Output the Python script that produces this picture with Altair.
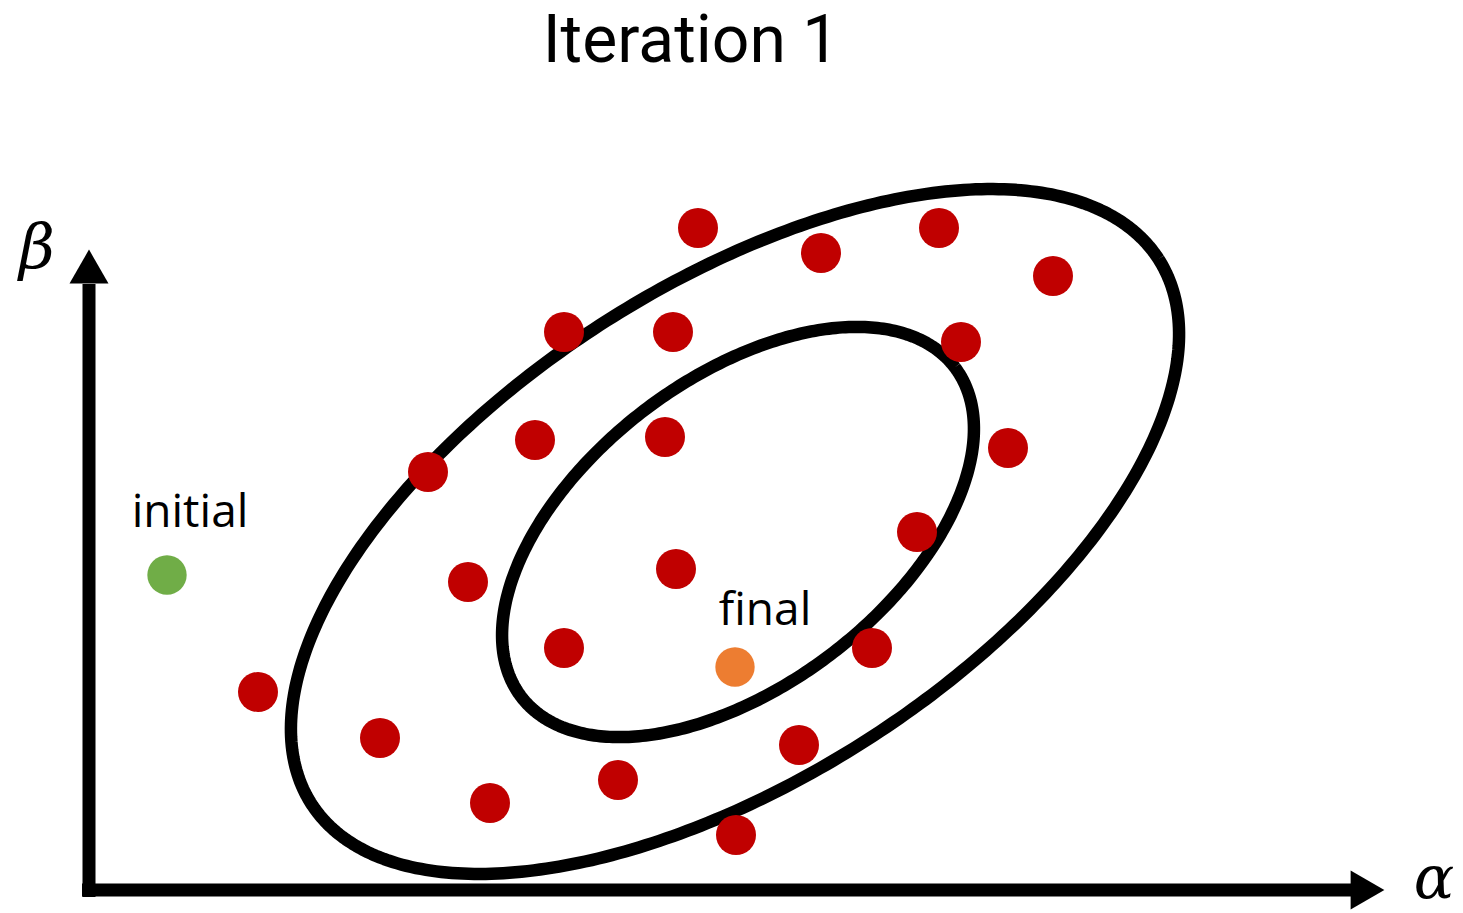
import numpy as np
import pandas as pd
import altair as alt

W, H = 1463, 913

# sample positions (canvas units, y grows downward)
red_x = [698, 821, 939, 1053, 564, 673, 961, 535, 665, 1008, 428,
         917, 468, 676, 564, 872, 258, 380, 799, 618, 490, 736]
red_y = [228, 253, 228, 276, 332, 332, 342, 440, 437, 448, 472,
         532, 582, 569, 648, 648, 692, 738, 745, 780, 803, 835]

initial_pt = (167, 575)
final_pt = (735, 667)

# contour ellipses: centre x, centre y, semi-major, semi-minor, tilt (degrees)
contour_names = ["outer", "inner"]
contour_cx = [735, 738]
contour_cy = [531.5, 532]
contour_a = [503.6, 272.3]
contour_b = [246.7, 153.6]
contour_tilt = [32.75, 37.2]

x_scale = alt.Scale(domain=[0, W], nice=False, zero=False)
y_scale = alt.Scale(domain=[0, H], nice=False, zero=False, reverse=True)
X = lambda f: alt.X(f, type="quantitative", scale=x_scale, axis=None)
Y = lambda f: alt.Y(f, type="quantitative", scale=y_scale, axis=None)

rows = []
t = np.linspace(0, 2 * np.pi, 400)
for name, cx, cy, a, b, tilt in zip(contour_names, contour_cx, contour_cy,
                                    contour_a, contour_b, contour_tilt):
    p = np.radians(tilt)
    xs = cx + a * np.cos(t) * np.cos(p) - b * np.sin(t) * np.sin(p)
    ys = cy - (a * np.cos(t) * np.sin(p) + b * np.sin(t) * np.cos(p))
    for i, (xv, yv) in enumerate(zip(xs, ys)):
        rows.append({"contour": name, "i": i, "x": xv, "y": yv})
contour_df = pd.DataFrame(rows)

contours = alt.Chart(contour_df).mark_line(
    color="black", strokeWidth=12.5, strokeJoin="round"
).encode(x=X("x"), y=Y("y"), detail="contour:N", order="i:Q")

red_df = pd.DataFrame({"x": red_x, "y": red_y})
red_pts = alt.Chart(red_df).mark_circle(
    size=1600, color="#C00000", opacity=1
).encode(x=X("x"), y=Y("y"))

init_df = pd.DataFrame({"x": [initial_pt[0]], "y": [initial_pt[1]]})
init_pt = alt.Chart(init_df).mark_circle(
    size=1550, color="#70AD47", opacity=1
).encode(x=X("x"), y=Y("y"))

fin_df = pd.DataFrame({"x": [final_pt[0]], "y": [final_pt[1]]})
fin_pt = alt.Chart(fin_df).mark_circle(
    size=1550, color="#ED7D31", opacity=1
).encode(x=X("x"), y=Y("y"))

# axis arrows
axis_df = pd.DataFrame({
    "x": [89, 82], "x2": [89, 1352],
    "y": [897, 890], "y2": [284, 890],
})
axis_lines = alt.Chart(axis_df).mark_rule(color="black", strokeWidth=13).encode(
    x=X("x"), x2="x2", y=Y("y"), y2="y2"
)

head_df = pd.DataFrame({
    "x": [89, 1367.5], "y": [266.5, 890],
    "shape": ["triangle-up", "triangle-right"],
})
heads = alt.Chart(head_df).mark_point(
    filled=True, color="black", opacity=1, size=1520
).encode(
    x=X("x"), y=Y("y"),
    shape=alt.Shape("shape:N", scale=None, legend=None),
)

# labels
label_df = pd.DataFrame({
    "x": [190, 765], "y": [527, 625], "text": ["initial", "final"],
})
labels = alt.Chart(label_df).mark_text(
    font="Open Sans", fontSize=46, color="black", align="center",
    baseline="alphabetic"
).encode(x=X("x"), y=Y("y"), text="text:N")

greek_df = pd.DataFrame({
    "x": [37, 1434], "y": [268, 898], "text": ["β", "α"],
    "size": [62, 60],
})
greek = alt.Chart(greek_df).mark_text(
    font="DejaVu Serif", fontStyle="italic", color="black",
    align="center", baseline="alphabetic"
).encode(
    x=X("x"), y=Y("y"), text="text:N",
    size=alt.Size("size:Q", scale=None, legend=None),
)

title_df = pd.DataFrame({"x": [691], "y": [62], "text": ["Iteration 1"]})
title = alt.Chart(title_df).mark_text(
    font="Roboto", fontSize=66, color="black", align="center",
    baseline="alphabetic"
).encode(x=X("x"), y=Y("y"), text="text:N")

chart = alt.layer(
    contours, axis_lines, heads, red_pts, init_pt, fin_pt, labels, greek, title
).properties(
    width=W, height=H, autosize=alt.AutoSizeParams(type="none"), padding=0,
    background="white",
).configure_view(strokeWidth=0)

chart.save("out.html", embed_options={"renderer": "svg", "actions": False})
